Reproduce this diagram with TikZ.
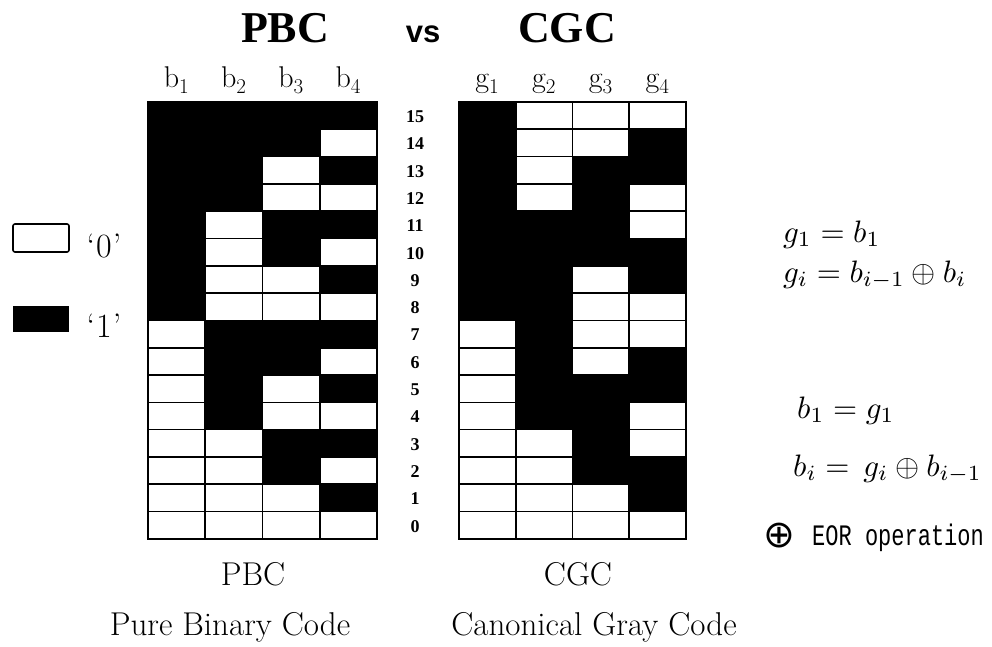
\documentclass[tikz,border=0pt]{standalone}
\usepackage{fontspec}
\newfontfamily\tms{Liberation Serif}
\newfontfamily\vsfont{Liberation Sans}
\newfontfamily\monofont{Liberation Mono}
\newfontfamily\dvs{DejaVu Sans}
\newcommand\fsz[1]{\fontsize{#1}{#1}\selectfont}
\newcommand\scaledmath[1]{\scalebox{3.1}{$#1$}}
\begin{document}
\begin{tikzpicture}[x=1pt,y=-1pt,
  cell/.style={draw=black,line width=1.6pt},
  hdr/.style={anchor=base,inner sep=0pt,font=\fsz{30}},
  rownum/.style={inner sep=0pt,font=\tms\bfseries\fsz{18}},
  title/.style={anchor=base,inner sep=0pt,font=\tms\bfseries\fsz{44}},
  bottom/.style={anchor=base,inner sep=0pt,font=\fsz{33}},
  formula/.style={anchor=base west,inner sep=0pt,font=\normalsize}]
\useasboundingbox (0,0) rectangle (992,647);
\fill[white] (0,0) rectangle (992,647);
% titles
\node[title] (tpbc) at (285,43) {PBC};
\node[anchor=base,inner sep=0pt,font=\vsfont\bfseries\fsz{31}] (tvs) at (423,43) {vs};
\node[title] (tcgc) at (567,43) {CGC};
% grids
\def\rh{27.3}
\foreach \r in {0,...,15}{
  \foreach \c in {1,...,4}{
    \pgfmathtruncatemacro\bb{mod(floor(\r/2^(4-\c)),2)}
    \pgfmathtruncatemacro\gg{mod(floor(\r/2^(4-\c))+floor(\r/2^(5-\c)),2)}
    \pgfmathsetmacro\yt{102+(15-\r)*\rh}
    \pgfmathsetmacro\xp{148+(\c-1)*57.25}
    \pgfmathsetmacro\xg{459+(\c-1)*56.75}
    \ifnum\bb=1 \def\fb{black}\else\def\fb{white}\fi
    \ifnum\gg=1 \def\fg{black}\else\def\fg{white}\fi
    \draw[cell,fill=\fb] (\xp,\yt) rectangle ++(57.25,\rh);
    \draw[cell,fill=\fg] (\xg,\yt) rectangle ++(56.75,\rh);
  }
  \pgfmathsetmacro\yc{102+(15-\r)*\rh+\rh/2+1}
  \node[rownum] (n\r) at (415,\yc) {\r};
}
% headers
\foreach \c in {1,...,4}{
  \pgfmathsetmacro\xp{148+(\c-0.5)*57.25}
  \pgfmathsetmacro\xg{459+(\c-0.5)*56.75}
  \node[hdr] (hb\c) at (\xp,88) {b\textsubscript{\c}};
  \node[hdr] (hg\c) at (\xg,88) {g\textsubscript{\c}};
}
% legend
\draw[line width=1.6pt,rounded corners=2pt] (13,224) rectangle (69,252);
\fill[black] (13,306) rectangle (69,332);
\node[anchor=base,inner sep=0pt,font=\fsz{34}] (l0) at (104,257) {‘\hspace{1pt}0\hspace{1pt}’};
\node[anchor=base,inner sep=0pt,font=\fsz{34}] (l1) at (104,337) {‘\hspace{1pt}1\hspace{1pt}’};
% formulas
\node[formula] (f1) at (783,242) {\scaledmath{g_1 = b_1}};
\node[formula] (f2) at (783,282) {\scaledmath{g_i = b_{i-1} \oplus b_i}};
\node[formula] (f3) at (797,418) {\scaledmath{b_1 = g_1}};
\node[formula] (f4) at (793,476) {\scaledmath{b_i = \,g_i \oplus b_{i-1}}};
\node[anchor=base west,inner sep=0pt,font=\dvs\fsz{38}] (eor1) at (763,547) {⊕};
\node[anchor=base west,inner sep=0pt,font=\monofont\fsz{22}] (eor2) at (812,545) {\scalebox{1}[1.35]{EOR operation}};
% bottom labels
\node[bottom] (bp) at (253,585) {PBC};
\node[bottom] (bc) at (578,585) {CGC};
\node[bottom] (bpn) at (230,635) {Pure Binary Code};
\node[bottom] (bcn) at (594,635) {Canonical Gray Code};
\end{tikzpicture}
\end{document}
